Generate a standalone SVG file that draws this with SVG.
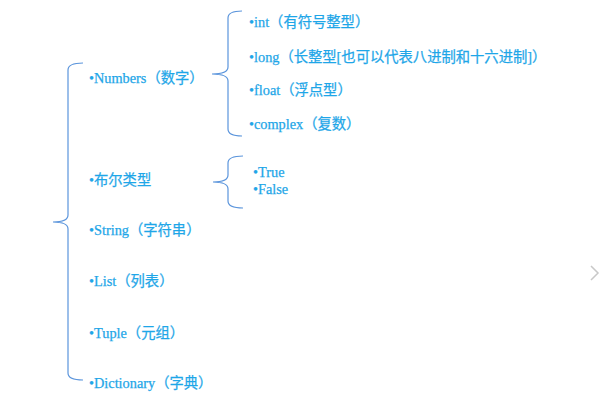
<svg xmlns="http://www.w3.org/2000/svg" width="600" height="400" viewBox="0 0 600 400">
<style>
.t{font-family:"Liberation Serif","Noto Sans CJK SC",serif;font-size:14.3px;fill:#1ea6e8;stroke:#1ea6e8;stroke-width:0.25}
.b{fill:none;stroke:#5b95dc;stroke-width:1.2}
</style>
<rect width="600" height="400" fill="#fff"/>
<g id="connectors">
<path class="b" d="M83,63 Q68,63 68,70 L68,215 Q68,222 53,222 Q68,222 68,229 L68,373 Q68,380 83,380"/>
<path class="b" d="M242,11 Q228,11 228,18 L228,67 Q228,74 212,74 Q228,74 228,81 L228,129 Q228,136 242,136"/>
<path class="b" d="M243,156 Q228,156 228,163 L228,175 Q228,182 213,182 Q228,182 228,189 L228,201 Q228,208 243,208"/>
</g>
<g id="numbers"><text class="t" x="89" y="83">•Numbers（数字）</text></g>
<g id="int"><text class="t" x="249" y="27">•int（有符号整型）</text></g>
<g id="long"><text class="t" x="249" y="62">•long（长整型[也可以代表八进制和十六进制]）</text></g>
<g id="float"><text class="t" x="249" y="95">•float（浮点型）</text></g>
<g id="complex"><text class="t" x="249" y="129">•complex（复数）</text></g>
<g id="bool"><text class="t" x="89" y="185">•布尔类型</text></g>
<g id="true"><text class="t" x="253" y="177">•True</text></g>
<g id="false"><text class="t" x="253" y="194">•False</text></g>
<g id="string"><text class="t" x="89" y="235">•String（字符串）</text></g>
<g id="list"><text class="t" x="89" y="286">•List（列表）</text></g>
<g id="tuple"><text class="t" x="89" y="338">•Tuple（元组）</text></g>
<g id="dict"><text class="t" x="89" y="388">•Dictionary（字典）</text></g>
<polyline points="591,266 598,273 591,280" fill="none" stroke="#c8c8c8" stroke-width="1.5"/>
</svg>
